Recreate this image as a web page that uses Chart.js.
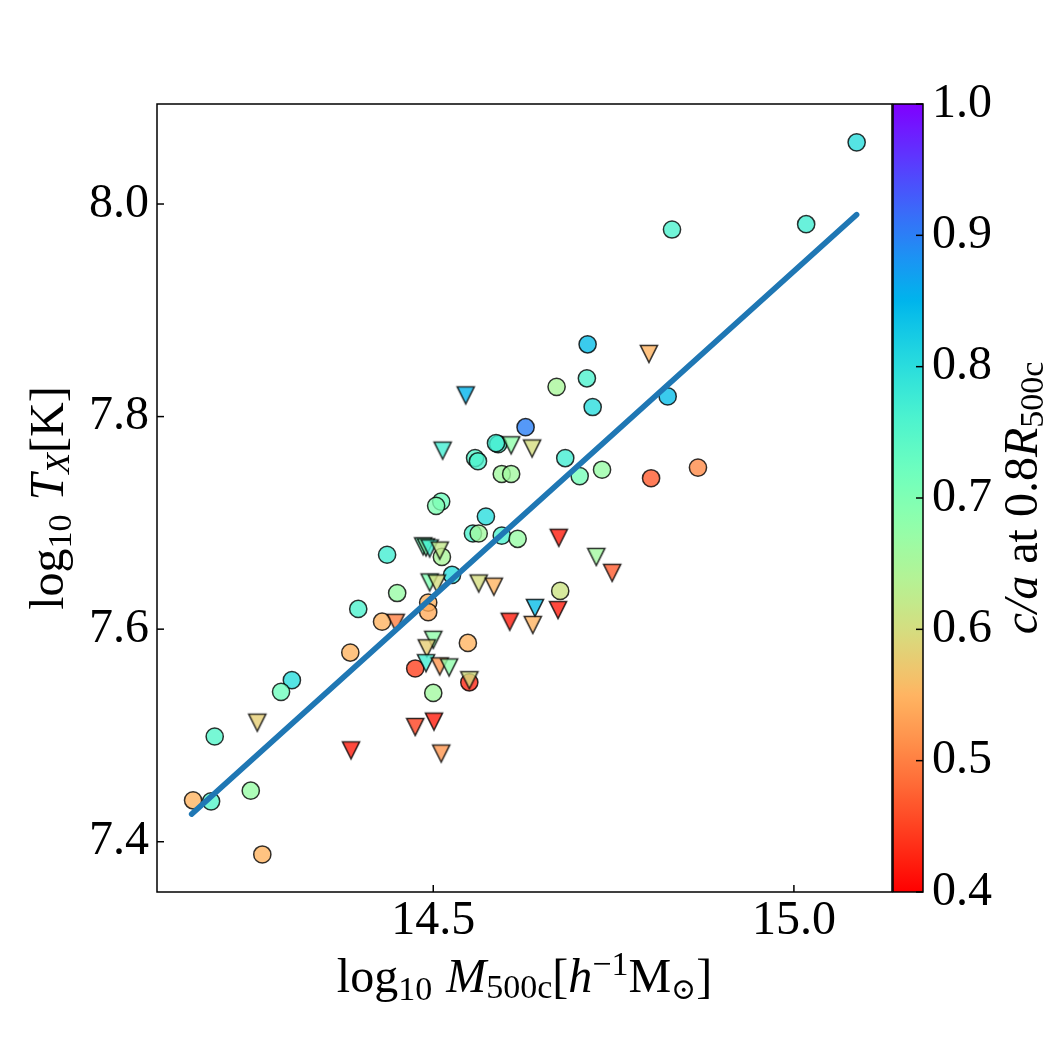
<!DOCTYPE html>
<html><head><meta charset="utf-8">
<script src="https://cdn.jsdelivr.net/npm/chart.js@4.4.1/dist/chart.umd.min.js"></script>
<style>html,body{margin:0;padding:0;background:#fff;}canvas{display:block}</style>
</head><body>
<canvas id="c" width="1050" height="1050"></canvas>
<script>
// ---- data ----
const circMass = [15.087,15.017,14.831,14.714,14.671,14.713,14.721,14.825,14.628,14.590,14.587,14.558,14.562,14.595,14.608,14.683,14.703,14.734,14.802,14.867,14.511,14.504,14.573,14.555,14.563,14.595,14.617,14.436,14.512,14.526,14.676,14.450,14.396,14.493,14.493,14.429,14.548,14.385,14.475,14.550,14.500,14.304,14.289,14.197,14.247,14.167,14.192,14.263];
const circTemp = [8.058,7.981,7.976,7.868,7.828,7.836,7.809,7.819,7.790,7.774,7.775,7.761,7.758,7.746,7.746,7.761,7.744,7.750,7.742,7.752,7.720,7.716,7.706,7.690,7.690,7.688,7.685,7.670,7.668,7.651,7.636,7.634,7.619,7.625,7.616,7.607,7.587,7.578,7.563,7.550,7.540,7.552,7.541,7.499,7.448,7.439,7.438,7.388];
const circShape = [0.80,0.77,0.76,0.84,0.65,0.76,0.80,0.84,0.90,0.76,0.77,0.75,0.76,0.66,0.66,0.77,0.71,0.67,0.47,0.51,0.72,0.70,0.80,0.76,0.66,0.76,0.67,0.77,0.65,0.80,0.61,0.67,0.76,0.55,0.54,0.55,0.55,0.55,0.45,0.43,0.66,0.80,0.72,0.75,0.67,0.55,0.75,0.55];

const triMass = [14.799,14.545,14.608,14.637,14.513,14.674,14.726,14.748,14.486,14.490,14.495,14.509,14.495,14.505,14.563,14.584,14.641,14.673,14.606,14.638,14.448,14.500,14.491,14.490,14.509,14.522,14.550,14.475,14.501,14.511,14.256,14.386];
const triTemp = [7.859,7.820,7.773,7.770,7.768,7.686,7.668,7.653,7.678,7.677,7.676,7.674,7.644,7.643,7.643,7.640,7.620,7.618,7.607,7.604,7.606,7.590,7.582,7.568,7.565,7.564,7.552,7.508,7.513,7.483,7.512,7.486];
const triShape = [0.55,0.85,0.68,0.60,0.77,0.42,0.66,0.47,0.72,0.70,0.77,0.62,0.70,0.60,0.60,0.55,0.84,0.42,0.42,0.55,0.50,0.68,0.58,0.77,0.52,0.68,0.60,0.45,0.42,0.52,0.58,0.42];

const fitMass = [14.165, 15.087];
const fitTemp = [7.426, 7.990];

const xTicks = [14.5, 15.0];
const yTicks = [7.4, 7.6, 7.8, 8.0];
const cbTicks = [0.4, 0.5, 0.6, 0.7, 0.8, 0.9, 1.0];
const xRange = [14.117, 15.136];
const yRange = [7.3527, 8.0941];
const cbRange = [0.4, 1.0];

// ---- styling helpers ----
const FONT = "'Liberation Serif', 'DejaVu Serif', serif";
function cmap(v, a) {
  let t = 1 - (v - cbRange[0]) / (cbRange[1] - cbRange[0]);
  t = Math.max(0, Math.min(1, t));
  const cl = z => Math.round(255 * Math.max(0, Math.min(1, z)));
  const r = cl(Math.abs(2 * t - 0.5)), g = cl(Math.sin(Math.PI * t)), b = cl(Math.cos(Math.PI * t / 2));
  return `rgba(${r},${g},${b},${a})`;
}
function triImage(color) {
  const s = 26, m = s / 2, h = 8.6;
  const cv = document.createElement('canvas');
  cv.width = s; cv.height = s;
  const c = cv.getContext('2d');
  c.beginPath();
  c.moveTo(m - h, m - h); c.lineTo(m + h, m - h); c.lineTo(m, m + h); c.closePath();
  c.fillStyle = color; c.fill();
  c.lineWidth = 1.5; c.strokeStyle = 'rgba(0,0,0,0.8)'; c.lineJoin = 'miter';
  c.stroke();
  return cv;
}
function drawRich(ctx, segs, cx, cy, rot) {
  ctx.save();
  ctx.translate(cx, cy); ctx.rotate(rot);
  let total = 0;
  segs.forEach(s => {
    ctx.font = `${s.it ? 'italic ' : ''}${s.sz}px ${FONT}`;
    s.w = ctx.measureText(s.t).width;
    total += s.w + (s.gap || 0);
  });
  let x = -total / 2;
  ctx.textBaseline = 'alphabetic'; ctx.textAlign = 'left'; ctx.fillStyle = '#000';
  segs.forEach(s => {
    ctx.font = `${s.it ? 'italic ' : ''}${s.sz}px ${FONT}`;
    ctx.fillText(s.t, x, s.dy || 0);
    x += s.w + (s.gap || 0);
  });
  ctx.restore();
}

const decoPlugin = {
  id: 'deco',
  afterDatasetsDraw(chart) {
    const ctx = chart.ctx, a = chart.chartArea;
    const xs = chart.scales.x, ys = chart.scales.y, cb = chart.scales.cb;
    // colorbar
    const cbL = a.right + 1, cbW = 30;
    const grad = ctx.createLinearGradient(0, a.bottom, 0, a.top);
    for (let i = 0; i <= 60; i++) {
      const v = cbRange[0] + (cbRange[1] - cbRange[0]) * i / 60;
      grad.addColorStop(i / 60, cmap(v, 1));
    }
    ctx.save();
    ctx.fillStyle = grad;
    ctx.fillRect(cbL, a.top, cbW, a.bottom - a.top);
    ctx.strokeStyle = '#000'; ctx.lineWidth = 1.5;
    ctx.strokeRect(cbL, a.top, cbW, a.bottom - a.top);
    // colorbar ticks (inward, right edge)
    cbTicks.forEach(v => {
      const py = cb.getPixelForValue(v);
      ctx.beginPath(); ctx.moveTo(cbL + cbW, py); ctx.lineTo(cbL + cbW - 7, py); ctx.stroke();
    });
    // frame
    ctx.strokeRect(a.left, a.top, a.right - a.left, a.bottom - a.top);
    // inward ticks
    xTicks.forEach(v => {
      const px = xs.getPixelForValue(v);
      ctx.beginPath(); ctx.moveTo(px, a.bottom); ctx.lineTo(px, a.bottom - 7); ctx.stroke();
    });
    yTicks.forEach(v => {
      const py = ys.getPixelForValue(v);
      ctx.beginPath(); ctx.moveTo(a.left, py); ctx.lineTo(a.left + 7, py); ctx.stroke();
    });
    ctx.restore();
    // axis titles
    const cy = (a.top + a.bottom) / 2, cx = (a.left + a.right) / 2;
    drawRich(ctx, [
      {t: 'log', sz: 48}, {t: '10', sz: 34, dy: 8, gap: 14},
      {t: 'M', sz: 48, it: true}, {t: '500c', sz: 34, dy: 6},
      {t: '[', sz: 48}, {t: 'h', sz: 48, it: true}, {t: '\u22121', sz: 34, dy: -17},
      {t: 'M', sz: 48}, {t: '\u2299', sz: 30, dy: 7}, {t: ']', sz: 48}
    ], cx, 992, 0);
    drawRich(ctx, [
      {t: 'log', sz: 48}, {t: '10', sz: 34, dy: 8, gap: 14},
      {t: 'T', sz: 48, it: true}, {t: 'X', sz: 34, it: true, dy: 6},
      {t: '[K]', sz: 48}
    ], 63, cy, -Math.PI / 2);
    drawRich(ctx, [
      {t: 'c/a', sz: 48, it: true}, {t: ' at ', sz: 48}, {t: '0.8', sz: 48},
      {t: 'R', sz: 48, it: true}, {t: '500c', sz: 34, dy: 6}
    ], 1037, cy, -Math.PI / 2);
  }
};

const tickFont = {family: FONT, size: 48};
new Chart(document.getElementById('c'), {
  type: 'scatter',
  data: {
    datasets: [
      {
        label: 'fit', showLine: true, order: 0,
        data: fitMass.map((x, i) => ({x, y: fitTemp[i]})),
        borderColor: '#1f77b4', borderWidth: 5.5, borderCapStyle: 'round',
        pointRadius: 0, pointHoverRadius: 0
      },
      {
        label: 'triangles', order: 1,
        data: triMass.map((x, i) => ({x, y: triTemp[i]})),
        pointStyle: triShape.map(v => triImage(cmap(v, 0.8))),
        pointRadius: 9, pointHoverRadius: 9
      },
      {
        label: 'circles', order: 2,
        data: circMass.map((x, i) => ({x, y: circTemp[i]})),
        pointStyle: 'circle', pointRadius: 8.6, pointHoverRadius: 8.6,
        backgroundColor: circShape.map(v => cmap(v, 0.8)),
        borderColor: 'rgba(0,0,0,0.8)', borderWidth: 1.5
      }
    ]
  },
  options: {
    responsive: false, animation: false, devicePixelRatio: 1,
    layout: {padding: {top: 104, left: 0, right: 0, bottom: 0}},
    plugins: {legend: {display: false}, tooltip: {enabled: false}},
    scales: {
      x: {
        type: 'linear', position: 'bottom', min: xRange[0], max: xRange[1],
        afterBuildTicks: s => { s.ticks = xTicks.map(v => ({value: v})); },
        afterFit: s => { s.height = 158; },
        grid: {display: false, drawTicks: false}, border: {display: false},
        ticks: {font: tickFont, color: '#000', padding: 1, maxRotation: 0, callback: v => v.toFixed(1)}
      },
      y: {
        type: 'linear', position: 'left', min: yRange[0], max: yRange[1],
        afterBuildTicks: s => { s.ticks = yTicks.map(v => ({value: v})); },
        afterFit: s => { s.width = 157; },
        grid: {display: false, drawTicks: false}, border: {display: false},
        ticks: {font: tickFont, color: '#000', padding: 8, callback: v => v.toFixed(1)}
      },
      cb: {
        type: 'linear', position: 'right', min: cbRange[0], max: cbRange[1],
        afterBuildTicks: s => { s.ticks = cbTicks.map(v => ({value: v})); },
        afterFit: s => { s.width = 158; },
        grid: {display: true, drawOnChartArea: false, drawTicks: true, tickLength: 31, color: 'rgba(0,0,0,0)', tickColor: 'rgba(0,0,0,0)'},
        border: {display: false},
        ticks: {font: tickFont, color: '#000', padding: 9, callback: v => v.toFixed(1)}
      }
    }
  },
  plugins: [decoPlugin]
});
</script>
</body></html>
